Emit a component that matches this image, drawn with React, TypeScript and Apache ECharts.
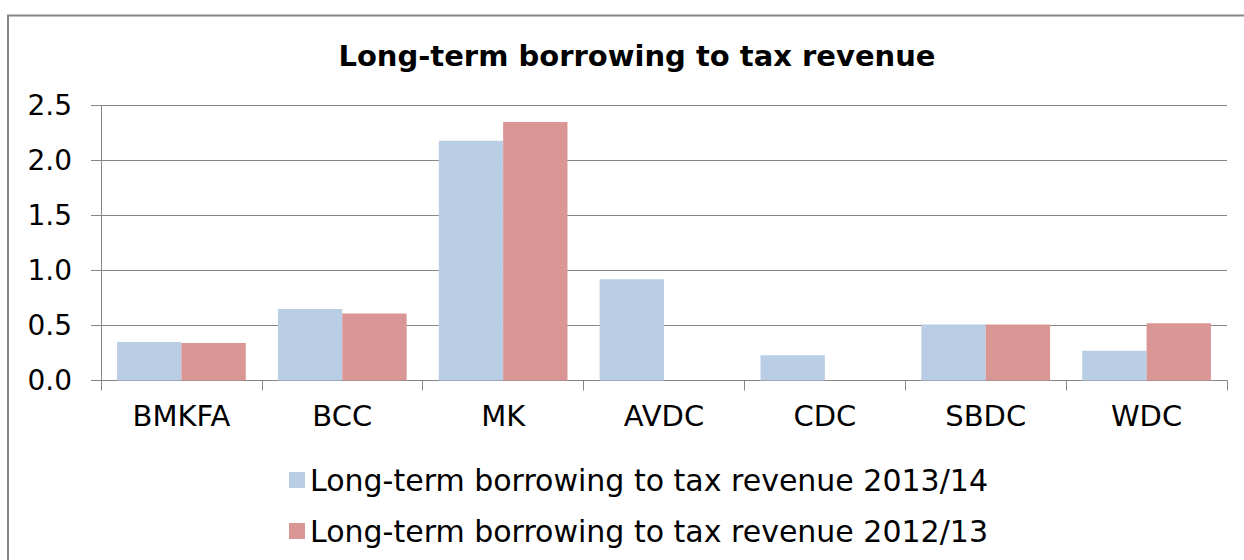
import React, { useEffect, useRef } from "react";
import * as echarts from "echarts";

const categories = ["BMKFA", "BCC", "MK", "AVDC", "CDC", "SBDC", "WDC"];
const series2013 = [0.35, 0.65, 2.18, 0.92, 0.23, 0.51, 0.27];
const series2012 = [0.34, 0.61, 2.35, 0, 0, 0.51, 0.52];
const seriesNames = [
  "Long-term borrowing to tax revenue 2013/14",
  "Long-term borrowing to tax revenue 2012/13",
];
const titleText = "Long-term borrowing to tax revenue";

const FONT = "'DejaVu Sans', Verdana, sans-serif";
const GRAY = "#868686";

export default function App() {
  const ref = useRef<HTMLDivElement>(null);
  useEffect(() => {
    document.body.style.margin = "0";
    const chart = echarts.init(ref.current!, null, { renderer: "svg" });
    chart.setOption({
      animation: false,
      backgroundColor: "#ffffff",
      title: {
        text: titleText,
        left: 632,
        textAlign: "center",
        top: 36,
        textStyle: { fontFamily: FONT, fontSize: 29, fontWeight: "bold", color: "#000" },
      },
      graphic: [
        {
          type: "rect",
          shape: { x: 8, y: 15.5, width: 1400, height: 700 },
          style: { fill: "none", stroke: GRAY, lineWidth: 2 },
          silent: true,
        },
      ],
      legend: {
        orient: "vertical",
        left: 289,
        top: 465,
        padding: 0,
        itemWidth: 16,
        itemHeight: 16,
        itemGap: 21,
        icon: "rect",
        textStyle: { fontFamily: FONT, fontSize: 30, color: "#000", lineHeight: 30 },
        data: seriesNames,
      },
      grid: { left: 101, right: 17, top: 105.5, bottom: 179.5, containLabel: false },
      xAxis: {
        type: "category",
        data: categories,
        axisLine: { lineStyle: { color: GRAY, width: 1 } },
        axisTick: { show: true, length: 10, lineStyle: { color: GRAY }, alignWithLabel: false },
        axisLabel: { fontFamily: FONT, fontSize: 29, color: "#000", margin: 21 },
      },
      yAxis: {
        type: "value",
        min: 0,
        max: 2.5,
        interval: 0.5,
        axisLine: { show: true, lineStyle: { color: GRAY, width: 1 } },
        axisTick: { show: true, length: 10, lineStyle: { color: GRAY } },
        splitLine: { show: true, lineStyle: { color: GRAY, width: 1 } },
        axisLabel: {
          fontFamily: FONT,
          fontSize: 28,
          color: "#000",
          margin: 29,
          formatter: (v: number) => v.toFixed(1),
        },
      },
      series: [
        {
          name: seriesNames[0],
          type: "bar",
          data: series2013,
          itemStyle: { color: "#B9CDE5" },
          barGap: "0%",
          barCategoryGap: "20%",
        },
        {
          name: seriesNames[1],
          type: "bar",
          data: series2012,
          itemStyle: { color: "#D99694" },
          barGap: "0%",
          barCategoryGap: "20%",
        },
      ],
    });
    return () => chart.dispose();
  }, []);
  return <div ref={ref} style={{ width: 1244, height: 560 }} />;
}
